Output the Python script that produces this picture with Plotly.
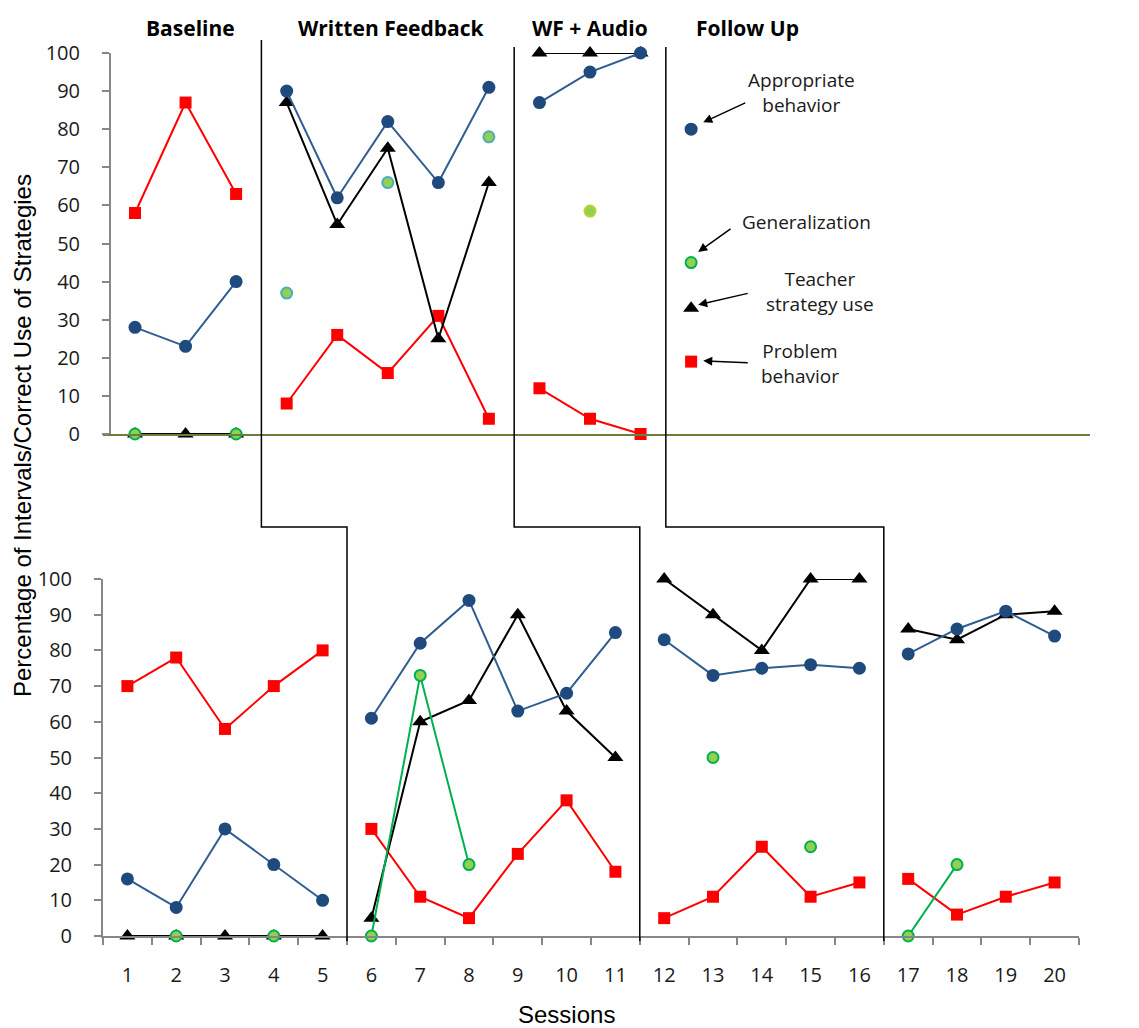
import plotly.graph_objects as go

# ---------------- data ----------------
phase_names = ["Baseline", "Written Feedback", "WF + Audio", "Follow Up"]
legend_labels = ["Appropriate<br>behavior", "Generalization", "Teacher<br>strategy use", "Problem<br>behavior"]
y_ticks = list(range(0, 101, 10))

# top participant (sessions 1-12)
top_sessions = list(range(1, 13))
top_phase_lengths = [3, 5, 3, 1]
top_appropriate = [28, 23, 40, 90, 62, 82, 66, 91, 87, 95, 100, 80]
top_problem = [58, 87, 63, 8, 26, 16, 31, 4, 12, 4, 0, 19]
top_teacher = [0, 0, 0, 87, 55, 75, 25, 66, 100, 100, 100, 33]
top_generalization = [0, None, 0, 37, None, 66, None, 78, None, 58.5, None, 45]

# bottom participant (sessions 1-20)
bottom_sessions = [str(s) for s in range(1, 21)]
bottom_phase_lengths = [5, 6, 5, 4]
bottom_appropriate = [16, 8, 30, 20, 10, 61, 82, 94, 63, 68, 85, 83, 73, 75, 76, 75, 79, 86, 91, 84]
bottom_problem = [70, 78, 58, 70, 80, 30, 11, 5, 23, 38, 18, 5, 11, 25, 11, 15, 16, 6, 11, 15]
bottom_teacher = [0, 0, 0, 0, 0, 5, 60, 66, 90, 63, 50, 100, 90, 80, 100, 100, 86, 83, 90, 91]
bottom_generalization = [None, 0, None, 0, None, 0, 73, 20, None, None, None,
                         None, 50, None, 25, None, 0, 20, None, None]

# ---------------- geometry (reference pixel coords, page has 8px body margin) ----------------
OFF = 8
W, H = 1139 - OFF, 1028 - OFF
PL, PR, PT, PB = 103, 1090, 53, 936          # plot area in page pixels
ML, MT = PL - OFF, PT - OFF
MR, MB = W - (PR - OFF), H - (PB - OFF)
PW, PH = PR - PL, PB - PT
top_dom = [(PB - 434) / PH, 1.0]
bot_dom = [0.0, (PB - 579) / PH]
bot_xdom = [0.0, (1079 - PL) / PW]
top_xrange = [0.367, 19.89]
bot_xrange = [-0.5, 19.5]

BLUE_M = "#1F4A7E"
BLUE_L = "#2F5D92"
RED = "#FF0000"
BLACK = "#000000"
GREEN_F = "#92D050"
GREEN_L = "#00B050"
GRAY = "#878787"
OLIVE = "#6E7D3C"
TICKFONT = dict(family="Open Sans, Noto Sans, sans-serif", size=20, color="#1a1a1a")


def px(p):
    return (p - PL) / PW


def py(p):
    return (PB - p) / PH


def split(lengths):
    out, i = [], 0
    for n in lengths:
        out.append((i, i + n))
        i += n
    return out


fig = go.Figure()


def add_series(xs, ys, lengths, xa, ya, name, color_l, marker):
    for (a, b) in split(lengths):
        fig.add_trace(go.Scatter(
            x=xs[a:b], y=ys[a:b], mode="lines+markers", xaxis=xa, yaxis=ya,
            line=dict(color=color_l, width=2), marker=marker,
            showlegend=False, cliponaxis=False, name=name, connectgaps=False))


sq = dict(symbol="square", size=12, color=RED)
tri = dict(symbol="triangle-up", size=14, color=BLACK)
circ = dict(symbol="circle", size=13, color=BLUE_M)

# top panel
add_series(top_sessions, top_problem, top_phase_lengths, "x2", "y2", "Problem behavior", RED, sq)
add_series(top_sessions, top_teacher, top_phase_lengths, "x2", "y2", "Teacher strategy use", BLACK, tri)
add_series(top_sessions, top_appropriate, top_phase_lengths, "x2", "y2", "Appropriate behavior", BLUE_L, circ)
top_gen_border = ["#00B050"] * 3 + ["#4BACC6"] * 5 + ["#B5D334"] * 3 + ["#00B050"]
fig.add_trace(go.Scatter(
    x=top_sessions, y=top_generalization, mode="markers", xaxis="x2", yaxis="y2",
    marker=dict(symbol="circle", size=11, color=GREEN_F, line=dict(color=top_gen_border, width=2)),
    showlegend=False, cliponaxis=False, name="Generalization"))

# bottom panel
add_series(bottom_sessions, bottom_problem, bottom_phase_lengths, "x", "y", "Problem behavior", RED, sq)
add_series(bottom_sessions, bottom_teacher, bottom_phase_lengths, "x", "y", "Teacher strategy use", BLACK, tri)
add_series(bottom_sessions, bottom_appropriate, bottom_phase_lengths, "x", "y", "Appropriate behavior", BLUE_L, circ)
add_series(bottom_sessions, bottom_generalization, bottom_phase_lengths, "x", "y", "Generalization", GREEN_L,
           dict(symbol="circle", size=11, color=GREEN_F, line=dict(color=GREEN_L, width=2)))


# ---------------- phase change lines ----------------
def top_x(v):
    return (v - top_xrange[0]) / (top_xrange[1] - top_xrange[0])


def bot_x(idx):
    return (idx - bot_xrange[0]) / (bot_xrange[1] - bot_xrange[0]) * bot_xdom[1]


top_bounds = [3.5, 8.5, 11.5]
bot_bounds = [4.5, 10.5, 15.5]
top_starts = [40, 47, 47]
for tb, bb, ys in zip(top_bounds, bot_bounds, top_starts):
    x1, x2 = top_x(tb), bot_x(bb)
    path = f"M {x1},{py(ys)} L {x1},{py(527)} L {x2},{py(527)} L {x2},{py(941)}"
    fig.add_shape(type="path", path=path, xref="paper", yref="paper",
                  line=dict(color=BLACK, width=1.5))

# ---------------- annotations ----------------
phase_x = [190, 391, 590, 747]
for name, p_ in zip(phase_names, phase_x):
    fig.add_annotation(text=f"<b>{name}</b>", x=px(p_), y=py(28), xref="paper", yref="paper",
                       showarrow=False, font=dict(family="Open Sans, sans-serif", size=21, color="black"),
                       xanchor="center", yanchor="middle")

legend_pos = [(14.19, 89.7), (14.29, 55.6), (14.55, 37.3), (14.16, 18.4)]
for txt, (lx, ly) in zip(legend_labels, legend_pos):
    fig.add_annotation(text=txt, x=lx, y=ly, xref="x2", yref="y2", showarrow=False,
                       font=dict(family="Open Sans, sans-serif", size=19, color="#1a1a1a"),
                       xanchor="center", yanchor="middle", align="center")

arrows = [((13.10, 87.1), (12.24, 81.8)),
          ((12.81, 54.1), (12.14, 47.8)),
          ((13.15, 37.0), (12.14, 33.9)),
          ((13.15, 18.7), (12.24, 19.2))]
for (tx, ty), (hx, hy) in arrows:
    fig.add_annotation(x=hx, y=hy, ax=tx, ay=ty, xref="x2", yref="y2", axref="x2", ayref="y2",
                       showarrow=True, arrowhead=2, arrowsize=1.2, arrowwidth=1.5, arrowcolor=BLACK, text="")

fig.add_annotation(text="Percentage of Intervals/Correct Use of Strategies", textangle=-90,
                   x=px(22), y=py(436), xref="paper", yref="paper", showarrow=False,
                   font=dict(family="Liberation Sans, Arial, sans-serif", size=24, color="black"),
                   xanchor="center", yanchor="middle")
fig.add_annotation(text="Sessions", x=px(566), y=py(1014), xref="paper", yref="paper",
                   showarrow=False, font=dict(family="Liberation Sans, Arial, sans-serif", size=24, color="black"),
                   xanchor="center", yanchor="middle")

# ---------------- axes ----------------
fig.update_layout(
    width=W, height=H, margin=dict(l=ML, r=MR, t=MT, b=MB),
    paper_bgcolor="white", plot_bgcolor="white", showlegend=False,
    xaxis=dict(domain=bot_xdom, anchor="y", type="category", range=bot_xrange,
               categoryorder="array", categoryarray=bottom_sessions,
               tickson="boundaries", ticks="outside", ticklen=7, tickwidth=2, tickcolor=GRAY,
               showline=True, linecolor=GRAY, linewidth=2, showgrid=False, zeroline=False,
               tickfont=TICKFONT, ticklabelstandoff=20),
    yaxis=dict(domain=bot_dom, anchor="x", range=[0, 100], tickvals=y_ticks,
               ticks="outside", ticklen=7, tickwidth=2, tickcolor=GRAY,
               showline=True, linecolor=GRAY, linewidth=2, showgrid=False, zeroline=False,
               tickfont=TICKFONT, ticklabelstandoff=18),
    xaxis2=dict(domain=[0, 1], anchor="y2", range=top_xrange, showline=True, linecolor=OLIVE,
                linewidth=1.5, showticklabels=False, ticks="", showgrid=False, zeroline=False),
    yaxis2=dict(domain=top_dom, anchor="free", position=7 / PW, range=[0, 100], tickvals=y_ticks,
                ticks="outside", ticklen=7, tickwidth=2, tickcolor=GRAY,
                showline=True, linecolor=GRAY, linewidth=2, showgrid=False, zeroline=False,
                tickfont=TICKFONT, ticklabelstandoff=18),
)

fig.write_html("out.html")
